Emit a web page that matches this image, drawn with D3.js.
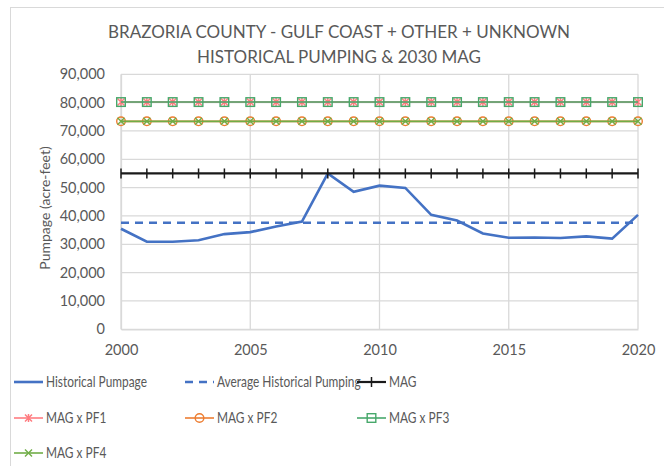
<!DOCTYPE html>
<html>
<head>
<meta charset="utf-8">
<script src="https://cdn.jsdelivr.net/npm/d3@7"></script>
<style>
  body { margin: 0; background: #fff; }
  text { font-family: Lato, "Open Sans", sans-serif; fill: #595959; }
</style>
</head>
<body>
<div id="chart"></div>
<script>
var years = d3.range(2000, 2021);
var historical = [35500, 30900, 30900, 31400, 33600, 34300, 36300, 38000, 55000, 48500,
    50700, 49900, 40400, 38400, 33800, 32300, 32400, 32200, 32800, 32000, 40400];
var averageHist = 37600;
var mag = 55000;
var magPF1 = 80200, magPF2 = 73400, magPF3 = 80200, magPF4 = 73400;
var yTicks = d3.range(0, 90001, 10000);
var xTicks = [2000, 2005, 2010, 2015, 2020];

var w = 664, h = 466;

var x = d3.scaleLinear().domain([2000, 2020]).range([121, 638]);
var y = d3.scaleLinear().domain([0, 90000]).range([329.3, 74.3]);

var svg = d3.select("#chart")
    .append("svg")
    .attr("width", w)
    .attr("height", h);

// chart frame
svg.append("rect")
    .attr("x", 10.5).attr("y", 7.5)
    .attr("width", 680).attr("height", 480)
    .attr("fill", "#fff")
    .attr("stroke", "#d9d9d9");

// title
svg.append("text")
    .attr("x", 339).attr("y", 38)
    .attr("text-anchor", "middle")
    .style("font-size", "17px")
    .text("BRAZORIA COUNTY - GULF COAST + OTHER + UNKNOWN");
svg.append("text")
    .attr("x", 339).attr("y", 63)
    .attr("text-anchor", "middle")
    .style("font-size", "17px")
    .text("HISTORICAL PUMPING & 2030 MAG");

// grid
svg.append("g")
    .selectAll("line")
    .data(yTicks)
    .enter()
    .append("line")
    .attr("x1", x(2000)).attr("x2", x(2020))
    .attr("y1", function (d) { return y(d); })
    .attr("y2", function (d) { return y(d); })
    .attr("stroke", "#d9d9d9")
    .attr("stroke-width", 1.3);

svg.append("g")
    .selectAll("line")
    .data(xTicks)
    .enter()
    .append("line")
    .attr("x1", function (d) { return x(d); })
    .attr("x2", function (d) { return x(d); })
    .attr("y1", y(0)).attr("y2", y(90000))
    .attr("stroke", "#d9d9d9")
    .attr("stroke-width", 1.3);

// axes
var yAxis = svg.append("g")
    .attr("transform", "translate(" + x(2000) + ",0)")
    .call(d3.axisLeft(y).tickValues(yTicks).tickSize(0).tickPadding(16)
        .tickFormat(d3.format(",")));
var xAxis = svg.append("g")
    .attr("transform", "translate(0," + y(0) + ")")
    .call(d3.axisBottom(x).tickValues(xTicks).tickSize(0).tickPadding(15)
        .tickFormat(d3.format("d")));
[yAxis, xAxis].forEach(function (g) {
    g.select(".domain").attr("stroke", "#d9d9d9").attr("stroke-width", 1.3);
    g.selectAll("text")
        .style("font-size", "14.5px")
        .style("font-family", "Lato, 'Open Sans', sans-serif")
        .attr("fill", "#595959");
});

svg.append("text")
    .attr("transform", "translate(50,208) rotate(-90)")
    .attr("text-anchor", "middle")
    .style("font-size", "14px")
    .text("Pumpage (acre-feet)");

// series
var line = d3.line()
    .x(function (d) { return x(d[0]); })
    .y(function (d) { return y(d[1]); });

function flat(v) {
    return years.map(function (yr) { return [yr, v]; });
}

function marker(g, type, color, cx, cy) {
    if (type === "plus") {
        g.append("line").attr("x1", cx).attr("x2", cx).attr("y1", cy - 5).attr("y2", cy + 5)
            .attr("stroke", color).attr("stroke-width", 1.5);
    } else if (type === "star") {
        g.append("path")
            .attr("d", "M" + (cx - 3.5) + "," + (cy - 3.5) + "L" + (cx + 3.5) + "," + (cy + 3.5) +
                "M" + (cx + 3.5) + "," + (cy - 3.5) + "L" + (cx - 3.5) + "," + (cy + 3.5) +
                "M" + cx + "," + (cy - 4) + "L" + cx + "," + (cy + 4))
            .attr("stroke", color).attr("stroke-width", 1.5).attr("fill", "none");
    } else if (type === "circle") {
        g.append("circle").attr("cx", cx).attr("cy", cy).attr("r", 4.3)
            .attr("stroke", color).attr("stroke-width", 1.4).attr("fill", "none");
    } else if (type === "square") {
        g.append("rect").attr("x", cx - 4.3).attr("y", cy - 4.3).attr("width", 8.6).attr("height", 8.6)
            .attr("stroke", color).attr("stroke-width", 1.4).attr("fill", "none");
    } else if (type === "x") {
        g.append("path")
            .attr("d", "M" + (cx - 3.5) + "," + (cy - 3.5) + "L" + (cx + 3.5) + "," + (cy + 3.5) +
                "M" + (cx + 3.5) + "," + (cy - 3.5) + "L" + (cx - 3.5) + "," + (cy + 3.5))
            .attr("stroke", color).attr("stroke-width", 1.4).attr("fill", "none");
    }
}

var series = [
    { name: "Historical Pumpage", data: years.map(function (yr, i) { return [yr, historical[i]]; }),
      color: "#4472c4", width: 2.6, dash: null, marker: null },
    { name: "Average Historical Pumping", data: flat(averageHist),
      color: "#4472c4", width: 2.6, dash: "8,6", marker: null },
    { name: "MAG", data: flat(mag), color: "#1a1a1a", width: 2.2, dash: null, marker: "plus" },
    { name: "MAG x PF1", data: flat(magPF1), color: "#ff7c80", width: 1.6, dash: null, marker: "star" },
    { name: "MAG x PF2", data: flat(magPF2), color: "#ed7d31", width: 1.6, dash: null, marker: "circle" },
    { name: "MAG x PF3", data: flat(magPF3), color: "#47a86b", width: 1.6, dash: null, marker: "square" },
    { name: "MAG x PF4", data: flat(magPF4), color: "#70ad47", width: 1.6, dash: null, marker: "x" }
];

series.forEach(function (s) {
    var g = svg.append("g");
    g.append("path")
        .datum(s.data)
        .attr("d", line)
        .attr("fill", "none")
        .attr("stroke", s.color)
        .attr("stroke-width", s.width)
        .attr("stroke-dasharray", s.dash);
    if (s.marker) {
        s.data.forEach(function (d) { marker(g, s.marker, s.color, x(d[0]), y(d[1])); });
    }
});

// legend (text narrowed a bit to get Calibri-like widths)
var legX = [14, 185, 357], legY = [382, 418, 453];
series.forEach(function (s, i) {
    var lx = legX[i % 3], ly = legY[Math.floor(i / 3)];
    var g = svg.append("g");
    g.append("line")
        .attr("x1", lx).attr("x2", lx + 29)
        .attr("y1", ly).attr("y2", ly)
        .attr("stroke", s.color)
        .attr("stroke-width", s.width)
        .attr("stroke-dasharray", s.dash);
    if (s.marker) marker(g, s.marker, s.color, lx + 14.5, ly);
    g.append("text")
        .attr("transform", "translate(" + (lx + 32) + "," + (ly + 5) + ") scale(0.82,1)")
        .style("font-size", "14.5px")
        .text(s.name);
});
</script>
</body>
</html>
